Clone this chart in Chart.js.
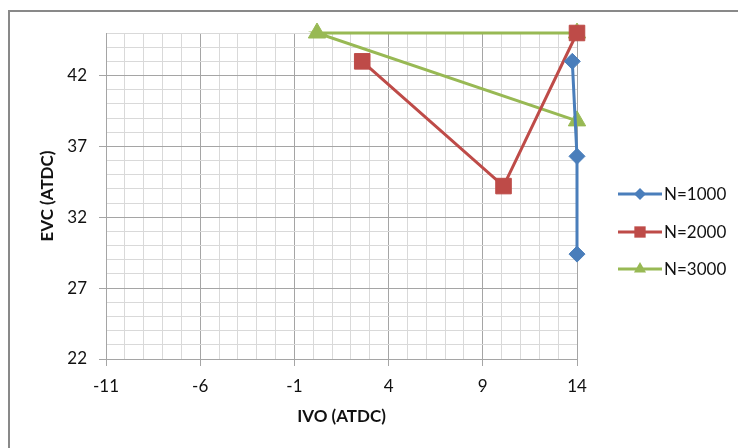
<!DOCTYPE html>
<html>
<head>
<meta charset="utf-8">
<script src="https://cdn.jsdelivr.net/npm/chart.js@4/dist/chart.umd.min.js"></script>
<style>
    body { margin: 0; background: #fff; }
    .graph-container { position: relative; width: 738px; height: 448px; }
</style>
</head>
<body>
<div class="graph-container">
    <canvas id="canvas"></canvas>
</div>
<script>
// data
let seriesNames = ["N=1000", "N=2000", "N=3000"];
let ivo1000 = [13.75, 14, 14];
let evc1000 = [43, 36.3, 29.4];
let ivo2000 = [2.6, 10.1, 14];
let evc2000 = [43, 34.2, 45];
let ivo3000 = [14, 0.2, 14];
let evc3000 = [45, 45, 38.8];
let xTicks = [-11, -6, -1, 4, 9, 14];
let yTicks = [22, 27, 32, 37, 42];

let colors = ["#4a7ebb", "#be4b48", "#98b954"];
let markers = ["rectRot", "rect", "triangle"];
let markerSize = [8, 11, 10];
let legendMarkerSize = [6, 8, 7];

let major = "#a5a5a5";
let minor = "#d9d9d9";
let fontName = "Lato, 'Open Sans', sans-serif";

function points(xs, ys) {
    return xs.map((x, i) => ({ x: x, y: ys[i] }));
}

let allX = [ivo1000, ivo2000, ivo3000];
let allY = [evc1000, evc2000, evc3000];

let datasets = seriesNames.map((name, i) => ({
    label: name,
    data: points(allX[i], allY[i]),
    showLine: true,
    borderColor: colors[i],
    backgroundColor: colors[i],
    borderWidth: 3,
    pointStyle: markers[i],
    pointRadius: markerSize[i],
    pointHoverRadius: markerSize[i],
    pointBorderWidth: 1,
    pointBorderColor: colors[i],
    tension: 0,
    clip: false
}));

// marker drawing for the legend
function drawMarker(ctx, style, x, y, r) {
    ctx.beginPath();
    if (style === "rectRot") {
        ctx.moveTo(x, y - r);
        ctx.lineTo(x + r, y);
        ctx.lineTo(x, y + r);
        ctx.lineTo(x - r, y);
    } else if (style === "rect") {
        let s = r * Math.SQRT1_2;
        ctx.rect(x - s, y - s, 2 * s, 2 * s);
    } else {
        ctx.moveTo(x, y - r);
        ctx.lineTo(x + r * 0.866, y + r / 2);
        ctx.lineTo(x - r * 0.866, y + r / 2);
    }
    ctx.closePath();
    ctx.fill();
}

let frameAndLegend = {
    id: "frameAndLegend",
    beforeDraw(chart) {
        let ctx = chart.ctx;
        ctx.save();
        ctx.strokeStyle = "#898989";
        ctx.lineWidth = 2;
        ctx.strokeRect(9, 11, 740, 450);
        ctx.restore();
    },
    afterDraw(chart) {
        let ctx = chart.ctx;
        let rows = [194, 232, 269];
        ctx.save();
        seriesNames.forEach((name, i) => {
            let y = rows[i];
            ctx.strokeStyle = colors[i];
            ctx.fillStyle = colors[i];
            ctx.lineWidth = 3;
            ctx.beginPath();
            ctx.moveTo(618, y);
            ctx.lineTo(662, y);
            ctx.stroke();
            drawMarker(ctx, markers[i], 640, y, legendMarkerSize[i]);
            ctx.fillStyle = "#111";
            ctx.font = "17px " + fontName;
            ctx.textBaseline = "middle";
            ctx.textAlign = "left";
            ctx.fillText(name, 664, y + 1);
        });
        ctx.restore();
    }
};

let canvas = document.getElementById("canvas").getContext("2d");

let chart = new Chart(canvas, {
    type: "scatter",
    data: { datasets: datasets },
    options: {
        responsive: true,
        maintainAspectRatio: false,
        animation: false,
        events: [],
        layout: {
            padding: { left: 8, top: 33, right: 161, bottom: 0 }
        },
        scales: {
            x: {
                type: "linear",
                min: -11,
                max: 14,
                afterFit(scale) { scale.height = 89; },
                ticks: {
                    stepSize: 1,
                    autoSkip: false,
                    maxRotation: 0,
                    padding: 10,
                    color: "#111",
                    font: { family: fontName, size: 17 },
                    callback: v => xTicks.includes(v) ? String(v) : ""
                },
                grid: {
                    color: c => xTicks.includes(c.tick.value) ? major : minor,
                    tickColor: c => xTicks.includes(c.tick.value) ? major : "rgba(0,0,0,0)",
                    tickLength: 7
                },
                border: { color: major },
                title: {
                    display: true,
                    text: "IVO (ATDC)",
                    color: "#111",
                    font: { family: fontName, size: 17, weight: "bold" },
                    padding: { top: 0, bottom: 21 }
                }
            },
            y: {
                type: "linear",
                min: 22,
                max: 45,
                afterFit(scale) { scale.width = 98; },
                ticks: {
                    stepSize: 1,
                    autoSkip: false,
                    padding: 12,
                    color: "#111",
                    font: { family: fontName, size: 17 },
                    callback: v => yTicks.includes(v) ? String(v) : ""
                },
                grid: {
                    color: c => yTicks.includes(c.tick.value) ? major : minor,
                    tickColor: c => yTicks.includes(c.tick.value) ? major : "rgba(0,0,0,0)",
                    tickLength: 7
                },
                border: { color: major },
                title: {
                    display: true,
                    text: "EVC (ATDC)",
                    color: "#111",
                    font: { family: fontName, size: 17, weight: "bold" },
                    padding: { top: 29, bottom: 0 }
                }
            }
        },
        plugins: {
            legend: { display: false },
            tooltip: { enabled: false }
        }
    },
    plugins: [frameAndLegend]
});
</script>
</body>
</html>
